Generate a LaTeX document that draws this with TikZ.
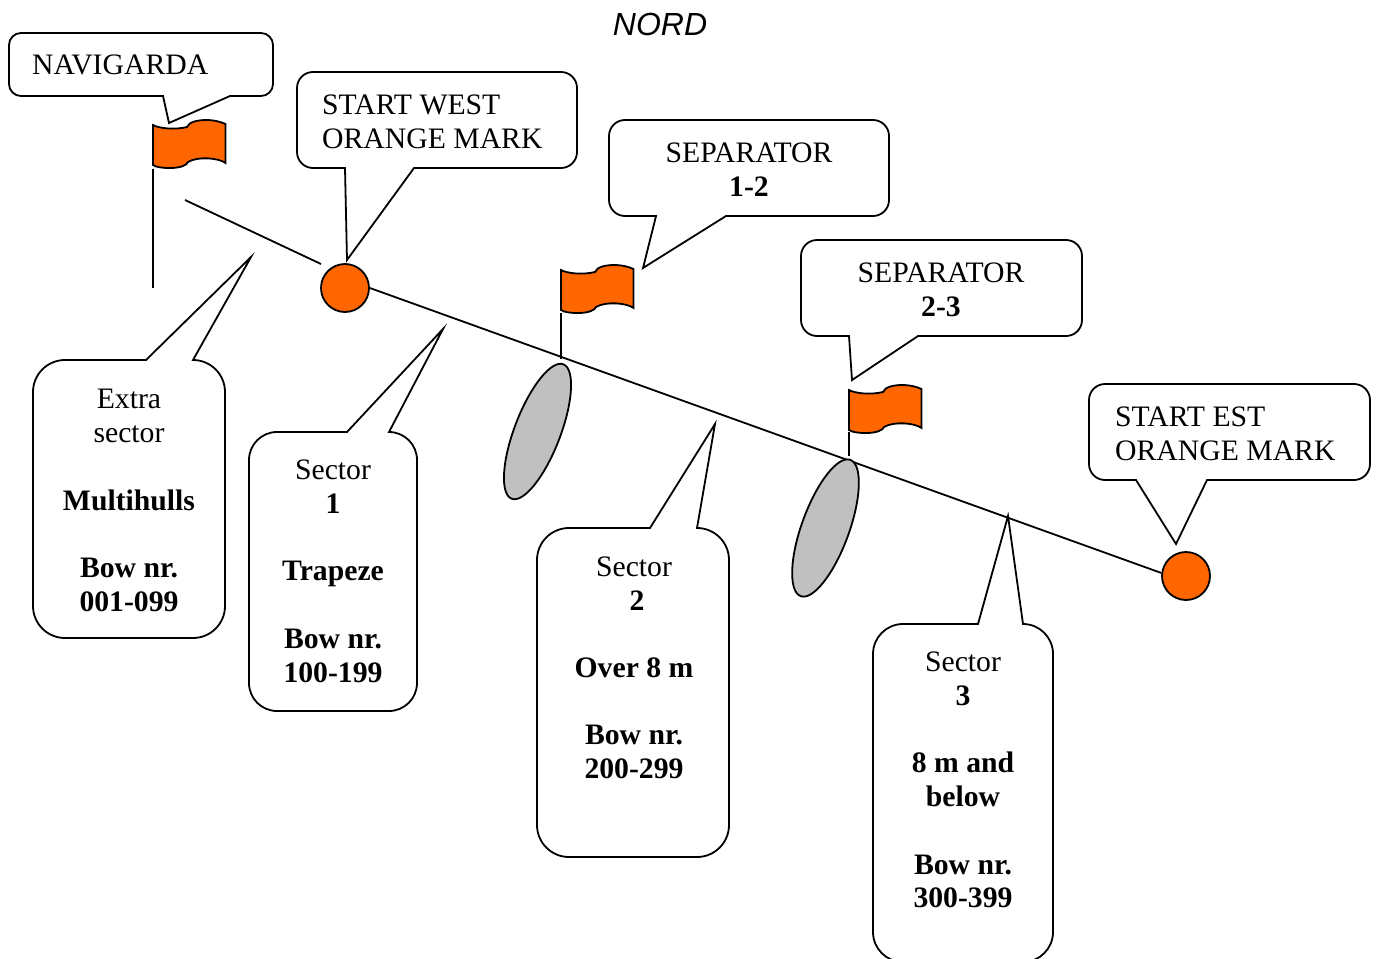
\documentclass[tikz,border=0pt]{standalone}
\usepackage{fontspec}
\setmainfont{Liberation Serif}
\newfontfamily\nordfont{Liberation Sans}
\usetikzlibrary{shapes.geometric}
\definecolor{markorange}{HTML}{FF6600}
\definecolor{boatgray}{HTML}{C0C0C0}
\tikzset{
	calloutline/.style={draw=black,line width=1.8pt,fill=white,line join=miter},
	calloutcenter/.style={anchor=north,align=center,inner sep=0pt,font=\fontsize{29.7}{33.8}\selectfont},
	calloutleft/.style={anchor=north west,align=left,inner sep=0pt,font=\fontsize{29.7}{33.8}\selectfont},
	startmark/.style={circle,draw=black,line width=1.8pt,fill=markorange,minimum size=48pt,inner sep=0pt},
	boat/.style={ellipse,draw=black,line width=1.8pt,fill=boatgray,inner sep=0pt},
	pole/.style={line width=1.8pt},
	courseline/.style={line width=1.8pt},
	flagmark/.pic={
		\draw[line width=1.8pt,fill=markorange] (0,0) .. controls (6,3.5) and (22,5) .. (34,2) .. controls (36,-3) and (44,-5) .. (54,-5) .. controls (60,-5) and (67,-3.5) .. (72.5,-1) -- (72.5,38) .. controls (66,33) and (45,31) .. (35,37) .. controls (34,40) and (28,43) .. (17,43) .. controls (8,43) and (3,42) .. (0,40) -- cycle;
	}
}
\begin{document}
\begin{tikzpicture}[x=1pt,y=-1pt]
		\useasboundingbox (0,0) rectangle (1378,958);
		% callouts
		\draw[calloutline,rounded corners=12pt] (163,96) -- (9,96) -- (9,33) -- (273,33) -- (273,96) [sharp corners] -- (230,96) -- (169,123) -- cycle;
		\draw[calloutline,rounded corners=16pt] (345,168) -- (297,168) -- (297,72) -- (577,72) -- (577,168) [sharp corners] -- (414,168) -- (347,260) -- cycle;
		\draw[calloutline,rounded corners=16pt] (656,216) -- (609,216) -- (609,120) -- (889,120) -- (889,216) [sharp corners] -- (726,216) -- (643,268) -- cycle;
		\draw[calloutline,rounded corners=16pt] (849,336) -- (801,336) -- (801,240) -- (1082,240) -- (1082,336) [sharp corners] -- (918,336) -- (852,380) -- cycle;
		\draw[calloutline,rounded corners=16pt] (1136,480) -- (1089,480) -- (1089,384) -- (1370,384) -- (1370,480) [sharp corners] -- (1207,480) -- (1176,544) -- cycle;
		\draw[calloutline,rounded corners=32pt] (146,360) -- (33,360) -- (33,638) -- (225,638) -- (225,360) [sharp corners] -- (193,360) -- (251,257) -- cycle;
		\draw[calloutline,rounded corners=28pt] (347,432) -- (249,432) -- (249,711) -- (417,711) -- (417,432) [sharp corners] -- (389,432) -- (443,329) -- cycle;
		\draw[calloutline,rounded corners=32pt] (650,528) -- (537,528) -- (537,857) -- (729,857) -- (729,528) [sharp corners] -- (697,528) -- (715,424) -- cycle;
		\draw[calloutline,rounded corners=30pt] (978,624) -- (873,624) -- (873,962) -- (1053,962) -- (1053,624) [sharp corners] -- (1023,624) -- (1008,516) -- cycle;
		% marks and course
		\node[startmark] (startwest) at (345,288) {};
		\node[startmark] (startest) at (1186,576) {};
		\coordinate (nav) at (185,200);
		\coordinate (westgap) at (321,264);
		\draw[courseline] (nav) -- (westgap);
		\draw[courseline] (startwest.east) -- (startest.173);
		\node[boat,rotate=-21,minimum width=46pt,minimum height=144pt] (boat1) at (537.5,431.5) {};
		\node[boat,rotate=-20,minimum width=47.5pt,minimum height=145pt] (boat2) at (825.5,528) {};
		% flags
		\pic at (153,125) {flagmark};
		\pic at (561,270) {flagmark};
		\pic at (849,390) {flagmark};
		\coordinate (polenavtop) at (153,169);
		\coordinate (polenavfoot) at (153,288);
		\coordinate (poleonetop) at (561,313);
		\coordinate (poleonefoot) at (561,359);
		\coordinate (poletwotop) at (849,432);
		\coordinate (poletwofoot) at (849,456);
		\draw[pole] (polenavtop) -- (polenavfoot);
		\draw[pole] (poleonetop) -- (poleonefoot);
		\draw[pole] (poletwotop) -- (poletwofoot);
		% texts
		\node[font=\nordfont\itshape\fontsize{32}{34}\selectfont,inner sep=0pt] (nord) at (660,24.5) {NORD};
		\node[calloutleft] (navigarda) at (32,55) {NAVIGARDA};
		\node[calloutleft] (westtext) at (322,95) {START WEST\\ORANGE MARK};
		\node[calloutcenter] (sepone) at (749,143) {SEPARATOR\\\textbf{1-2}};
		\node[calloutcenter] (septwo) at (941,263) {SEPARATOR\\\textbf{2-3}};
		\node[calloutleft] (esttext) at (1115,407) {START EST\\ORANGE MARK};
		\node[calloutcenter] (extra) at (129,389) {Extra\\sector\\[33.8pt]\textbf{Multihulls}\\[33.8pt]\textbf{Bow nr.}\\\textbf{001-099}};
		\node[calloutcenter] (sectorone) at (333,459.5) {Sector\\\textbf{1}\\[33.8pt]\textbf{Trapeze}\\[33.8pt]\textbf{Bow nr.}\\\textbf{100-199}};
		\node[calloutcenter] (sectortwo) at (634,556.5) {Sector\\\hspace*{6pt}\textbf{2}\\[33.4pt]\textbf{Over 8 m}\\[33.4pt]\textbf{Bow nr.}\\\textbf{200-299}};
		\node[calloutcenter] (sectorthree) at (963,651.5) {Sector\\\textbf{3}\\[33.8pt]\textbf{8 m and}\\\textbf{below}\\[33.8pt]\textbf{Bow nr.}\\\textbf{300-399}};
\end{tikzpicture}
\end{document}
